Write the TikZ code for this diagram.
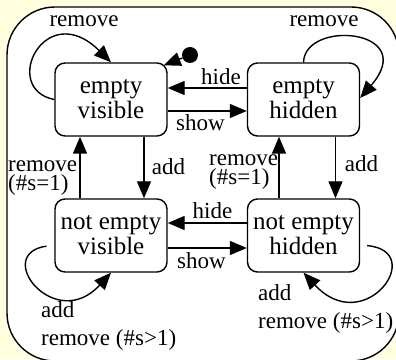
\documentclass[tikz,border=0pt]{standalone}
\usepackage{fontspec}
\setmainfont{Liberation Serif}
\usetikzlibrary{arrows.meta}
\definecolor{paleyellow}{RGB}{255,255,224}

\begin{document}
\begin{tikzpicture}[x=1pt,y=1pt,
        state/.style={draw,rounded corners=10pt,line width=1.4pt,minimum width=112pt,minimum height=73pt,inner sep=0pt,align=center,font=\fontsize{25}{25}\selectfont},
        lbl/.style={inner sep=0pt,font=\fontsize{23}{19}\selectfont},
        edge/.style={line width=1.4pt,-{Triangle[length=17pt,width=14pt]}}]
        \useasboundingbox (0,0) rectangle (396,359);
        \fill[paleyellow] (0,0) rectangle (396,359);
        \begin{scope}
            \clip (0,0) rectangle (396,359);
            \draw[fill=white,line width=1.4pt,rounded corners=48pt] (7,-2) rectangle (399,352);
        \end{scope}
        % states
        \node[state](ev)at(111,259.5){empty\\visible};
        \node[state](eh)at(303.5,259.5){empty\\hidden};
        \node[state](nv)at(111,123.5){not empty\\visible};
        \node[state](nh)at(303.5,123.5){not empty\\hidden};
        \node[circle,fill,inner sep=0pt,minimum size=16pt](init)at(190,304){};
        % transitions
        \draw[edge] (init) -- ([xshift=-4pt,yshift=-3pt]ev.north east);
        \draw[edge] ([yshift=11.5pt]eh.west) -- ([yshift=11.5pt]ev.east);
        \draw[edge] ([yshift=-11.5pt]ev.east) -- ([yshift=-11.5pt]eh.west);
        \draw[edge] ([xshift=33pt]ev.south) -- ([xshift=33pt]nv.north);
        \draw[edge] ([xshift=-31pt]nv.north) -- ([xshift=-31pt]ev.south);
        \draw[edge] ([xshift=32pt]eh.south) -- ([xshift=32pt]nh.north);
        \draw[edge] ([xshift=-24.5pt]nh.north) -- ([xshift=-24.5pt]eh.south);
        \draw[edge] ([yshift=12.5pt]nh.west) -- ([yshift=12.5pt]nv.east);
        \draw[edge] ([yshift=-12.5pt]nv.east) -- ([yshift=-12.5pt]nh.west);
        % self loops
        \draw[edge] (ev.west) .. controls (0,270) and (45,362) .. (ev.north);
        \draw[edge] (eh.north) .. controls (305,340) and (420,330) .. ([yshift=1.5pt]eh.east);
        \draw[edge,shorten <=8pt] ([yshift=-9.5pt]nv.west) .. controls (-8,105) and (55,25) .. (nv.south);
        \draw[edge,shorten <=7pt] ([yshift=-9.5pt]nh.east) .. controls (428,108) and (365,20) .. (nh.south);
        % labels
        \node[lbl](rmev)at(84,337.5){remove};
        \node[lbl](rmeh)at(324,337.5){remove};
        \node[lbl](hidetop)at(221,282){hide};
        \node[lbl](showtop)at(200.5,236){show};
        \node[lbl](addleft)at(168.5,192.5){add};
        \node[lbl,anchor=north west,align=left](rmleft)at(8,199){remove\\(\#s=1)};
        \node[lbl](addright)at(361.5,195.5){add};
        \node[lbl,anchor=north west,align=left](rmright)at(209,205){remove\\(\#s=1)};
        \node[lbl](hidebot)at(212.5,148.5){hide};
        \node[lbl](showbot)at(201.5,98){show};
        \node[lbl,anchor=north west,align=left](loopnv)at(41,58){add\\[9pt]remove (\#s>1)};
        \node[lbl,anchor=north west,align=left](loopnh)at(258,74.7){add\\[9pt]remove (\#s>1)};
    \end{tikzpicture}
\end{document}
